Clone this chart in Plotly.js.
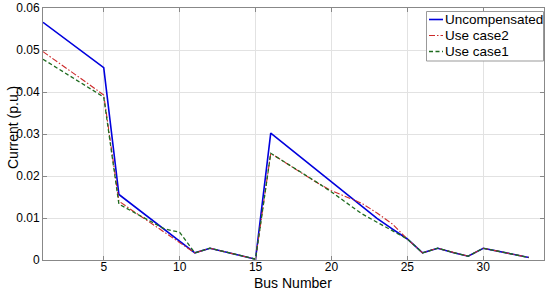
<!DOCTYPE html>
<html>
<head>
<meta charset="utf-8">
<script src="https://cdn.plot.ly/plotly-3.0.1.min.js"></script>
<style>
  html, body { margin: 0; padding: 0; background: #fff; }
  #chart { width: 550px; height: 292px; }
</style>
</head>
<body>
<div id="chart"></div>
<script>
// Bus numbers 1..33
var buses = [1,2,3,4,5,6,7,8,9,10,11,12,13,14,15,16,17,18,19,20,21,22,23,24,25,26,27,28,29,30,31,32,33];

var uncompensated = [0.0566,0.0539,0.0512,0.0485,0.0458,0.0156,0.0128,0.0100,0.0073,0.0045,0.0017,
                     0.0028,0.0019,0.0010,0.0002,0.0302,0.0273,0.0243,0.0214,0.0184,0.0155,0.0126,
                     0.0099,0.0074,0.0050,0.0017,0.0028,0.0018,0.0009,0.0028,0.0021,0.0013,0.0006];

var useCase2 = [0.0496,0.0471,0.0445,0.0419,0.0393,0.0140,0.0115,0.0090,0.0066,0.0040,0.0017,
                0.0028,0.0019,0.0010,0.0002,0.0254,0.0231,0.0207,0.0185,0.0165,0.0150,0.0135,
                0.0112,0.0086,0.0050,0.0017,0.0028,0.0018,0.0009,0.0028,0.0021,0.0013,0.0006];

var useCase1 = [0.0478,0.0455,0.0433,0.0410,0.0388,0.0133,0.0113,0.0093,0.0074,0.0066,0.0017,
                0.0028,0.0019,0.0010,0.0002,0.0254,0.0232,0.0209,0.0186,0.0162,0.0136,0.0110,
                0.0090,0.0070,0.0050,0.0017,0.0028,0.0018,0.0009,0.0028,0.0021,0.0013,0.0006];

var seriesNames = ['Uncompensated', 'Use case2', 'Use case1'];
var xTicks = [5, 10, 15, 20, 25, 30];
var yTicks = [0, 0.01, 0.02, 0.03, 0.04, 0.05, 0.06];
var yTickText = ['0', '0.01', '0.02', '0.03', '0.04', '0.05', '0.06'];

var lineStyles = [
  { color: '#0000dd', width: 1.6, dash: 'solid' },
  { color: '#cc2a2a', width: 1.1, dash: '6px,2px,1.5px,2px' },
  { color: '#1f6b1f', width: 1.3, dash: '4px,2.5px' }
];

var data = [uncompensated, useCase2, useCase1].map(function(vals, i) {
  return { x: buses, y: vals, name: seriesNames[i], mode: 'lines',
           line: lineStyles[i], showlegend: false };
});

// hand-made legend box (MATLAB style, short line samples)
var plotL = 43, plotR = 544, plotT = 8, plotB = 260;
function px(x) { return (x - plotL) / (plotR - plotL); }
function py(y) { return (plotB - y) / (plotB - plotT); }

var shapes = [{
  type: 'rect', xref: 'paper', yref: 'paper',
  x0: px(426.5), x1: px(543.5), y0: py(61), y1: py(11.5),
  fillcolor: '#fff', line: { color: '#999', width: 1 }, layer: 'above'
}];
var annotations = [];
var rowY = [19.5, 35.5, 51.5];
seriesNames.forEach(function(name, i) {
  shapes.push({
    type: 'line', xref: 'paper', yref: 'paper', layer: 'above',
    x0: px(429), x1: px(443), y0: py(rowY[i]), y1: py(rowY[i]),
    line: lineStyles[i]
  });
  annotations.push({
    xref: 'paper', yref: 'paper', x: px(443), y: py(rowY[i]),
    xanchor: 'left', yanchor: 'middle', showarrow: false,
    text: name, font: { size: 13.5, color: '#000' }
  });
});

// axis titles
annotations.push({
  xref: 'paper', yref: 'paper', x: px(293), y: py(282.5),
  xanchor: 'center', yanchor: 'middle', showarrow: false,
  text: 'Bus Number', font: { size: 14, color: '#000' }
});
annotations.push({
  xref: 'paper', yref: 'paper', x: px(13), y: py(128),
  xanchor: 'center', yanchor: 'middle', showarrow: false, textangle: -90,
  text: 'Current (p.u.)', font: { size: 14, color: '#000' }
});

var layout = {
  width: 550, height: 292,
  margin: { l: plotL, r: 550 - plotR, t: plotT, b: 292 - plotB },
  paper_bgcolor: '#fff', plot_bgcolor: '#fff',
  font: { family: 'Liberation Sans, Arial, sans-serif', size: 12, color: '#000' },
  showlegend: false,
  xaxis: {
    range: [1, 34], tickvals: xTicks, ticktext: xTicks.map(String),
    showgrid: true, gridcolor: '#e2e2e2', zeroline: false,
    showline: true, linecolor: '#888', mirror: 'ticks',
    ticks: 'inside', ticklen: 4, tickcolor: '#888',
    tickfont: { size: 12 }, automargin: false, ticklabelstandoff: -4
  },
  yaxis: {
    range: [0, 0.06], tickvals: yTicks, ticktext: yTickText,
    showgrid: true, gridcolor: '#e2e2e2', zeroline: false,
    showline: true, linecolor: '#888', mirror: 'ticks',
    ticks: 'inside', ticklen: 4, tickcolor: '#888',
    tickfont: { size: 12 }, automargin: false
  },
  shapes: shapes,
  annotations: annotations
};

Plotly.newPlot('chart', data, layout, { displayModeBar: false, staticPlot: true });
</script>
</body>
</html>
